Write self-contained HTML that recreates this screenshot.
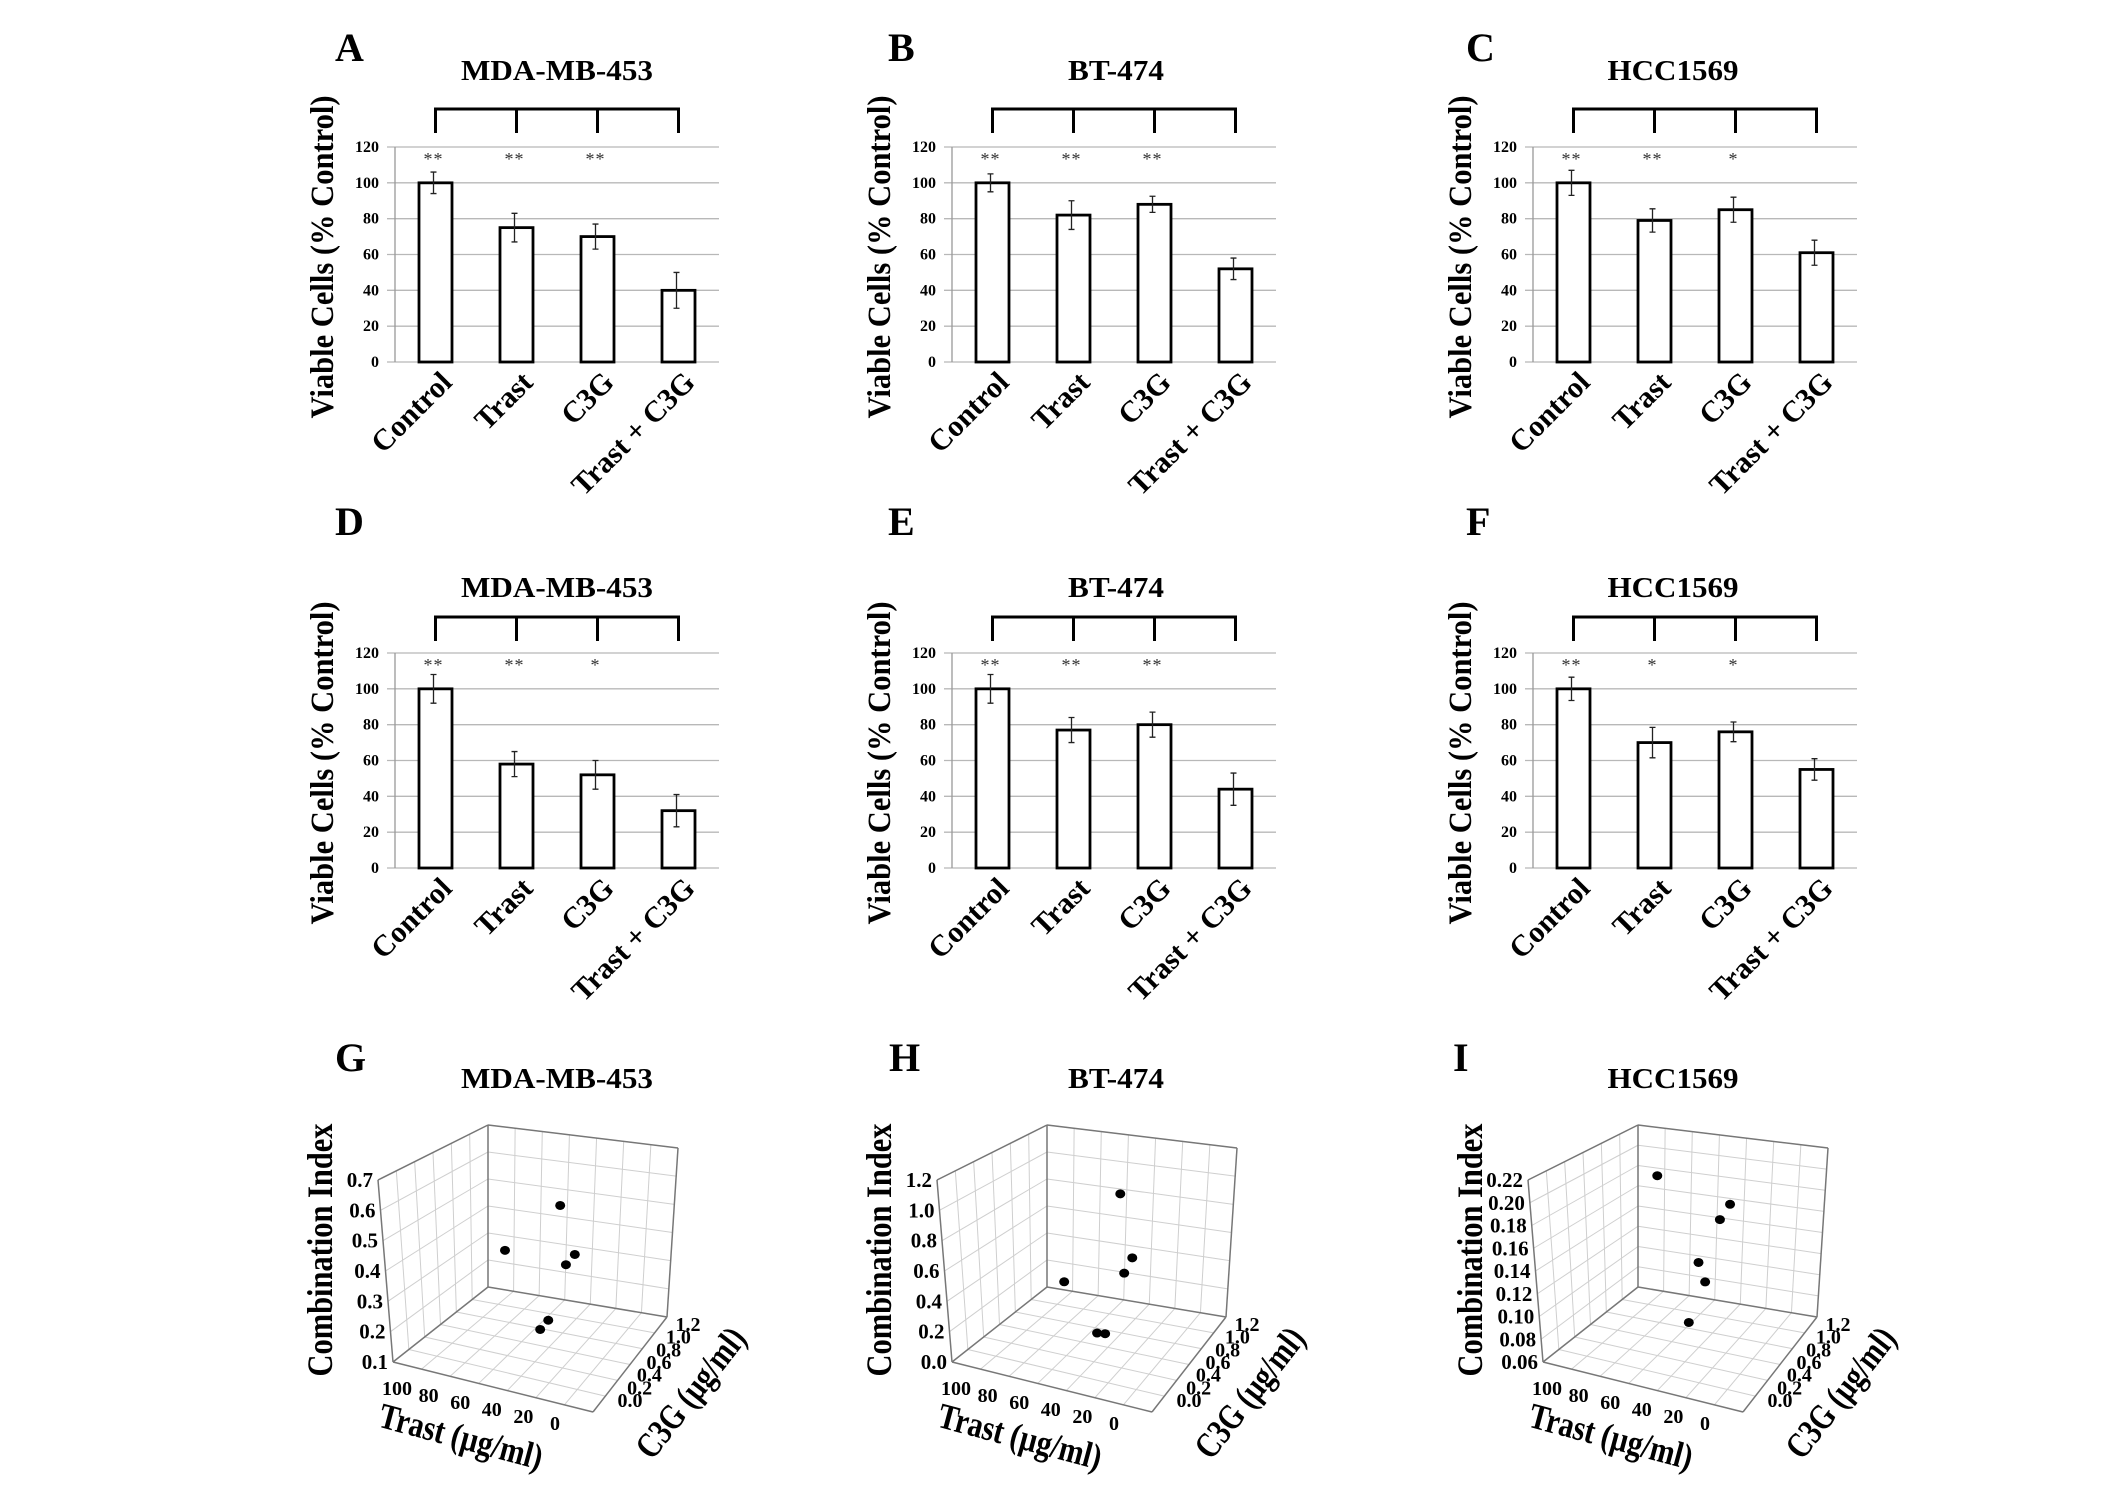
<!DOCTYPE html>
<html><head><meta charset="utf-8"><style>
html,body{margin:0;padding:0;background:#fff;}
svg{display:block;font-family:"Liberation Serif",serif;}
</style></head><body>
<svg id="fig" width="2126" height="1495" viewBox="0 0 2126 1495" xmlns="http://www.w3.org/2000/svg"></svg>
<script>
// ---- bar chart data ----
const categories = ["Control", "Trast", "C3G", "Trast + C3G"];
const yTicks = [0, 20, 40, 60, 80, 100, 120];
const valsA = [100, 75, 70, 40];  const errA = [6, 8, 7, 10];  const starsA = ["**", "**", "**", ""];
const valsB = [100, 82, 88, 52];  const errB = [5, 8, 4.5, 6]; const starsB = ["**", "**", "**", ""];
const valsC = [100, 79, 85, 61];  const errC = [7, 6.5, 7, 7]; const starsC = ["**", "**", "*", ""];
const valsD = [100, 58, 52, 32];  const errD = [8, 7, 8, 9];   const starsD = ["**", "**", "*", ""];
const valsE = [100, 77, 80, 44];  const errE = [8, 7, 7, 9];   const starsE = ["**", "**", "**", ""];
const valsF = [100, 70, 76, 55];  const errF = [6.5, 8.5, 5.5, 6]; const starsF = ["**", "*", "*", ""];
// ---- 3D scatter data ----
const trastTicks = [100, 80, 60, 40, 20, 0];
const c3gTicks = [0.0, 0.2, 0.4, 0.6, 0.8, 1.0, 1.2];
const ciTicksG = [0.1, 0.2, 0.3, 0.4, 0.5, 0.6, 0.7];
const ciTicksH = [0.0, 0.2, 0.4, 0.6, 0.8, 1.0, 1.2];
const ciTicksI = [0.06, 0.08, 0.10, 0.12, 0.14, 0.16, 0.18, 0.20, 0.22];
const trastG = [34, 54, 23, 26, 36, 38];
const c3gG = [0.53, 0.33, 0.43, 0.39, 0.41, 0.35];
const ciG = [0.62, 0.48, 0.49, 0.46, 0.25, 0.23];
const trastH = [35, 26, 29, 54, 38, 35];
const c3gH = [0.57, 0.49, 0.46, 0.32, 0.32, 0.35];
const ciH = [1.1, 0.72, 0.62, 0.55, 0.25, 0.24];
const trastI = [61, 31, 33, 37, 33, 39];
const c3gI = [0.55, 0.71, 0.63, 0.45, 0.43, 0.36];
const ciI = [0.215, 0.19, 0.18, 0.15, 0.135, 0.10];

const NS = "http://www.w3.org/2000/svg";
const svg = document.getElementById("fig");
function mk(tag, attrs, parent, txt) {
  const e = document.createElementNS(NS, tag);
  for (const k in attrs) e.setAttribute(k, attrs[k]);
  if (txt !== undefined) e.textContent = txt;
  (parent || svg).appendChild(e);
  return e;
}

function barPanel(o) {
  const g = mk("g", {});
  
  
  const W = 324, H = 215, top = o.top, left = o.left, y0 = top + H;
  const ys = v => y0 - v / 120 * H;
  const xs = i => left + 81 * i + 40.5;
  let t = mk("text", {x: o.lx, y: o.ly, "font-size": 40, "font-weight": "bold"}, g, o.letter);
  
  
  t = mk("text", {x: o.tx, y: o.ty, "font-size": 29, "font-weight": "bold", "text-anchor": "middle", textLength: o.tw, lengthAdjust: "spacingAndGlyphs"}, g, o.title);
  
  
  yTicks.forEach(v => {
    const l = mk("line", {x1: left - 8, x2: left + W, y1: ys(v), y2: ys(v), stroke: "#b8b8b8", "stroke-width": 1.3}, g);
    
    
    const tl = mk("text", {x: left - 16, y: ys(v) + 5, "font-size": 16, "font-weight": "bold", "text-anchor": "end"}, g, v);
    
    
  });
  const ax = mk("line", {x1: left, x2: left, y1: ys(120), y2: y0, stroke: "#999", "stroke-width": 1.3}, g);
  
  
  const yt = mk("text", {x: 0, y: 0, "font-size": 33, "font-weight": "bold", "text-anchor": "middle", textLength: 323, lengthAdjust: "spacingAndGlyphs", transform: `translate(${left - 62},${top + 110}) rotate(-90)`}, g, "Viable Cells (% Control)");
  
  
  const bt = top + o.bt, bb = top + o.bb;
  let d = `M${xs(0)},${bb} L${xs(0)},${bt} L${xs(3)},${bt} L${xs(3)},${bb} M${xs(1)},${bt} L${xs(1)},${bb} M${xs(2)},${bt} L${xs(2)},${bb}`;
  const br = mk("path", {d: d, fill: "none", stroke: "#000", "stroke-width": 3}, g);
  
  
  o.vals.forEach((v, i) => {
    const b = mk("rect", {x: xs(i) - 16.5, y: ys(v), width: 33, height: y0 - ys(v), fill: "#fff", stroke: "#000", "stroke-width": 2.8}, g);
    
    
    const e = o.err[i], cx = xs(i) - 2;
    const eb = mk("path", {d: `M${cx},${ys(v + e)} L${cx},${ys(v - e)} M${cx - 3},${ys(v + e)} L${cx + 3},${ys(v + e)} M${cx - 3},${ys(v - e)} L${cx + 3},${ys(v - e)}`, stroke: "#222", "stroke-width": 1.3, fill: "none"}, g);
    
    
    if (o.stars[i]) {
      const s = mk("text", {x: xs(i) - 2, y: top + 18, "font-size": 18, "text-anchor": "middle", fill: "#333", "letter-spacing": 1}, g, o.stars[i]);
      
      
    }
    const cl = mk("text", {x: 0, y: 0, "font-size": 30, "font-weight": "bold", "text-anchor": "end", transform: `translate(${xs(i) + 18},${y0 + 22}) rotate(-45)`}, g, categories[i]);
    
    
  });
}

barPanel({letter: "A", lx: 335, ly: 61, title: "MDA-MB-453", tx: 557, ty: 80, tw: 192, left: 395, top: 147, bt: -38, bb: -14, vals: valsA, err: errA, stars: starsA});
barPanel({letter: "B", lx: 888, ly: 61, title: "BT-474", tx: 1116, ty: 80, tw: 96, left: 952, top: 147, bt: -38, bb: -14, vals: valsB, err: errB, stars: starsB});
barPanel({letter: "C", lx: 1466, ly: 61, title: "HCC1569", tx: 1673, ty: 80, tw: 131, left: 1533, top: 147, bt: -38, bb: -14, vals: valsC, err: errC, stars: starsC});
barPanel({letter: "D", lx: 335, ly: 535, title: "MDA-MB-453", tx: 557, ty: 597, tw: 192, left: 395, top: 653, bt: -36, bb: -12, vals: valsD, err: errD, stars: starsD});
barPanel({letter: "E", lx: 888, ly: 535, title: "BT-474", tx: 1116, ty: 597, tw: 96, left: 952, top: 653, bt: -36, bb: -12, vals: valsE, err: errE, stars: starsE});
barPanel({letter: "F", lx: 1466, ly: 535, title: "HCC1569", tx: 1673, ty: 597, tw: 131, left: 1533, top: 653, bt: -36, bb: -12, vals: valsF, err: errF, stars: starsF});

function scatterPanel(o) {
  const g = mk("g", {});
  
  
  const dx = o.dx;
  const L0 = [393, 1362], F0 = [593, 1412], R0 = [667, 1317], B0 = [488, 1287];
  const L1 = [378, 1180], F1 = [590, 1234], R1 = [678, 1148], B1 = [488, 1125];
  const zmin = o.zt[0], zmax = o.zt[o.zt.length - 1];
  function bil(P, Q, R, S, s, c) {
    return [P[0]*s*(1-c) + Q[0]*(1-s)*(1-c) + R[0]*(1-s)*c + S[0]*s*c,
            P[1]*s*(1-c) + Q[1]*(1-s)*(1-c) + R[1]*(1-s)*c + S[1]*s*c];
  }
  function proj(T, C, Z) {
    const s = T / 100, c = C / 1.2, h = (Z - zmin) / (zmax - zmin);
    const b = bil(L0, F0, R0, B0, s, c), t = bil(L1, F1, R1, B1, s, c);
    return [dx + b[0] + h * (t[0] - b[0]), b[1] + h * (t[1] - b[1])];
  }
  function line(p, q, col, w, name) {
    const l = mk("line", {x1: p[0], y1: p[1], x2: q[0], y2: q[1], stroke: col, "stroke-width": w}, g);
    
    
  }
  const grid = "#cfcfcf";
  for (let k = 1; k < 6; k++) { const c = 1.2 * k / 6; line(proj(100, c, zmin), proj(100, c, zmax), grid, 1, 'gridline'); }
  for (let k = 1; k < 7; k++) { const T = 100 * k / 7; line(proj(T, 1.2, zmin), proj(T, 1.2, zmax), grid, 1, 'gridline'); }
  o.zt.forEach(z => {
    line(proj(100, 0, z), proj(100, 1.2, z), grid, 1, 'gridline');
    line(proj(100, 1.2, z), proj(0, 1.2, z), grid, 1, 'gridline');
  });
  for (let k = 1; k < 7; k++) { const T = 100 * k / 7; line(proj(T, 0, zmin), proj(T, 1.2, zmin), grid, 1, 'gridline'); }
  for (let k = 1; k < 6; k++) { const c = 1.2 * k / 6; line(proj(0, c, zmin), proj(100, c, zmin), grid, 1, 'gridline'); }
  const ec = "#777";
  line(proj(100, 0, zmin), proj(100, 0, zmax), ec, 1.5, 'box-edge');
  line(proj(100, 1.2, zmin), proj(100, 1.2, zmax), ec, 1.5, 'box-edge');
  line(proj(0, 1.2, zmin), proj(0, 1.2, zmax), ec, 1.5, 'box-edge');
  line(proj(100, 0, zmax), proj(100, 1.2, zmax), ec, 1.5, 'box-edge');
  line(proj(100, 1.2, zmax), proj(0, 1.2, zmax), ec, 1.5, 'box-edge');
  line(proj(100, 0, zmin), proj(0, 0, zmin), ec, 1.5, 'box-edge');
  line(proj(0, 0, zmin), proj(0, 1.2, zmin), ec, 1.5, 'box-edge');
  line(proj(100, 0, zmin), proj(100, 1.2, zmin), ec, 1.5, 'box-edge');
  line(proj(100, 1.2, zmin), proj(0, 1.2, zmin), ec, 1.5, 'box-edge');
  o.zt.forEach(z => {
    const p = proj(100, 0, z);
    const t = mk("text", {x: p[0] - 5, y: p[1] + 7, "font-size": 21, "font-weight": "bold", "text-anchor": "end"}, g, o.zfmt(z));
    
    
  });
  trastTicks.forEach(T => {
    const f = 1 - T / 100;
    const t = mk("text", {x: dx + 397 + f * 158, y: 1395 + f * 35, "font-size": 20, "font-weight": "bold", "text-anchor": "middle"}, g, T);
    
    
  });
  c3gTicks.forEach(C => {
    const f = C / 1.2;
    const t = mk("text", {x: dx + 630 + f * 58, y: 1407 - f * 76, "font-size": 20, "font-weight": "bold", "text-anchor": "middle"}, g, C.toFixed(1));
    
    
  });
  o.T.forEach((T, i) => {
    const p = proj(T, o.C[i], o.Z[i]);
    const c = mk("ellipse", {cx: p[0], cy: p[1], rx: 5, ry: 4.5, fill: "#000"}, g);
    
    
  });
  let t = mk("text", {x: dx + o.lx, y: 1071, "font-size": 40, "font-weight": "bold"}, g, o.letter);
  
  
  t = mk("text", {x: dx + o.tx, y: 1088, "font-size": 29, "font-weight": "bold", "text-anchor": "middle", textLength: o.tw, lengthAdjust: "spacingAndGlyphs"}, g, o.title);
  
  
  t = mk("text", {x: 0, y: 0, "font-size": 36, "font-weight": "bold", "text-anchor": "middle", textLength: 253, lengthAdjust: "spacingAndGlyphs", transform: `translate(${dx + 332},1250) rotate(-90)`}, g, "Combination Index");
  
  
  t = mk("text", {x: 0, y: 0, "font-size": 36, "font-weight": "bold", "text-anchor": "middle", textLength: 168, lengthAdjust: "spacingAndGlyphs", transform: `translate(${dx + 458},1448) rotate(15)`}, g, "Trast (µg/ml)");
  
  
  t = mk("text", {x: 0, y: 0, "font-size": 36, "font-weight": "bold", "text-anchor": "middle", textLength: 155, lengthAdjust: "spacingAndGlyphs", transform: `translate(${dx + 700},1400) rotate(-52)`}, g, "C3G (µg/ml)");
  
  
}
scatterPanel({letter: "G", dx: 0, lx: 335, tx: 557, tw: 192, title: "MDA-MB-453", zt: ciTicksG, zfmt: z => z.toFixed(1), T: trastG, C: c3gG, Z: ciG});
scatterPanel({letter: "H", dx: 559, lx: 330, tx: 557, tw: 96, title: "BT-474", zt: ciTicksH, zfmt: z => z.toFixed(1), T: trastH, C: c3gH, Z: ciH});
scatterPanel({letter: "I", dx: 1150, lx: 303, tx: 523, tw: 131, title: "HCC1569", zt: ciTicksI, zfmt: z => z.toFixed(2), T: trastI, C: c3gI, Z: ciI});
</script>
</body></html>
